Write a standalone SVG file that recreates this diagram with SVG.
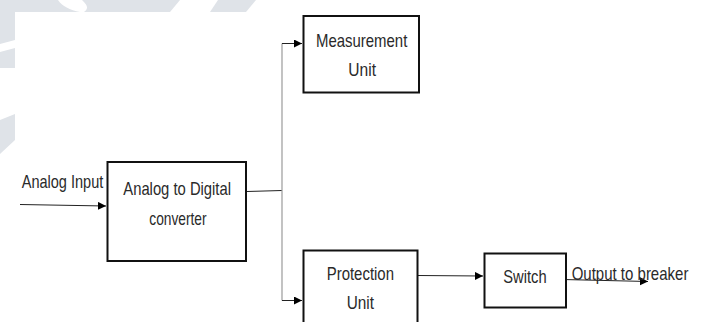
<svg xmlns="http://www.w3.org/2000/svg" width="702" height="322" viewBox="0 0 702 322">
<style>
.box{fill:#fff;stroke:#111;stroke-width:2}
.lbl{font-family:"Liberation Sans",Arial,sans-serif;font-size:18.5px;fill:#2a2a2a}
.ln{fill:none;stroke:#222;stroke-width:1}
.gl{fill:none;stroke:#9a9a9a;stroke-width:1.2}
.wm{fill:#dfe3e8}
</style>
<defs>
<marker id="ah" markerWidth="9" markerHeight="9" refX="8" refY="4" orient="auto" markerUnits="userSpaceOnUse">
<path d="M0,0 L8,4 L0,8 Z" fill="#000"/>
</marker>
</defs>
<rect width="702" height="322" fill="#fff"/>
<g id="watermark">
<path class="wm" d="M0,0 H58 C62,6 70,10 80,12 H0 Z"/>
<path class="wm" d="M82,0 H180 L170,12 H84 C90,8 86,4 82,0 Z"/>
<path class="wm" d="M218,0 H256 L246,12 H210 Z"/>
<path class="wm" d="M0,10 H15 V40 L0,44 Z"/>
<path class="wm" d="M0,52 L15,48 V68 H0 Z"/>
<path class="wm" d="M0,120 C5,118 10,116 15,114 V140 L0,154 Z"/>
</g>
<g id="connectors">
<path class="ln" d="M20,204.5 L106,206" marker-end="url(#ah)"/>
<path class="ln" d="M247,191.5 L282,190.5"/>
<path class="gl" d="M282,43.5 V300.5"/>
<path class="ln" d="M282,43.5 H302" marker-end="url(#ah)"/>
<path class="ln" d="M282,300.5 H302" marker-end="url(#ah)"/>
<path class="ln" d="M418,275.5 L483,276" marker-end="url(#ah)"/>
<path class="ln" d="M563,279.5 L648,281.5" marker-end="url(#ah)"/>
</g>
<g id="adc">
<rect class="box" x="107.5" y="162" width="138.5" height="99"/>
<text class="lbl" x="123.3" y="195" textLength="107.7" lengthAdjust="spacingAndGlyphs">Analog to Digital</text>
<text class="lbl" x="149.3" y="225" textLength="57.3" lengthAdjust="spacingAndGlyphs">converter</text>
</g>
<g id="measurement">
<rect class="box" x="303.5" y="16" width="115.5" height="76.5"/>
<text class="lbl" x="316" y="47" textLength="91.3" lengthAdjust="spacingAndGlyphs">Measurement</text>
<text class="lbl" x="348.3" y="76" textLength="27.7" lengthAdjust="spacingAndGlyphs">Unit</text>
</g>
<g id="protection">
<rect class="box" x="303.5" y="250.5" width="114" height="90"/>
<text class="lbl" x="326.7" y="280" textLength="67.3" lengthAdjust="spacingAndGlyphs">Protection</text>
<text class="lbl" x="346.7" y="309" textLength="27.3" lengthAdjust="spacingAndGlyphs">Unit</text>
</g>
<g id="switch">
<rect class="box" x="484.5" y="253.5" width="81.5" height="54"/>
<text class="lbl" x="503.3" y="283" textLength="43.3" lengthAdjust="spacingAndGlyphs">Switch</text>
</g>
<g id="labels">
<text class="lbl" x="21.7" y="188" textLength="81.6" lengthAdjust="spacingAndGlyphs">Analog Input</text>
<text class="lbl" x="571.7" y="279.5" textLength="116.7" lengthAdjust="spacingAndGlyphs">Output to breaker</text>
</g>
</svg>
